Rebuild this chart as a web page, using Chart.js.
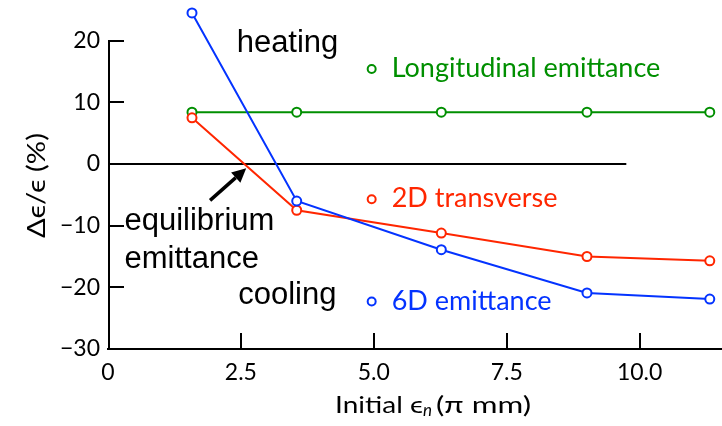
<!DOCTYPE html>
<html>
<head>
<meta charset="utf-8">
<script src="https://cdn.jsdelivr.net/npm/chart.js@4.4.1/dist/chart.umd.min.js"></script>
<style>
  html, body { margin: 0; padding: 0; background: #fff; }
</style>
</head>
<body>
<canvas id="chart" width="722" height="426"></canvas>
<script>
// initial normalised emittance (pi mm) and change in emittance (%)
const xValues = [1.58, 3.55, 6.27, 9.01, 11.32];
const longitudinal = [8.4, 8.4, 8.4, 8.4, 8.4];
const transverse2D = [7.5, -7.5, -11.2, -15.0, -15.7];
const emittance6D = [24.5, -6.0, -13.9, -20.9, -21.9];
const xTicks = [0, 2.5, 5, 7.5, 10];
const yTicks = [-30, -20, -10, 0, 10, 20];
const zeroLine = [0, 9.75];   // x range of the black reference line at 0 %

const GREEN = "#008f00", RED = "#ff2600", BLUE = "#0433ff";
const tickFont = "Lato";
const noteFont = "'Liberation Sans', Arial, sans-serif";

// text labels placed in data coordinates
const notes = [
  { text: "heating", x: 2.42, y: 18.2 },
  { text: "equilibrium", x: 0.31, y: -10.7 },
  { text: "emittance", x: 0.31, y: -16.9 },
  { text: "cooling", x: 2.45, y: -22.7 }
];
const legendItems = [
  { text: "Longitudinal emittance", color: GREEN, x: 4.96, y: 15.4 },
  { text: "2D transverse", color: RED, x: 4.96, y: -5.7 },
  { text: "6D emittance", color: BLUE, x: 4.96, y: -22.3 }
];
const arrow = { from: [1.92, -5.9], to: [2.6, -0.7] };

const pts = (ys) => xValues.map((x, i) => ({ x: x, y: ys[i] }));

const series = (label, ys, color, order) => ({
  label: label,
  data: pts(ys),
  borderColor: color,
  backgroundColor: "#fff",
  borderWidth: 2,
  pointRadius: 4.5,
  pointBorderWidth: 2,
  pointBackgroundColor: "#fff",
  pointBorderColor: color,
  clip: false,
  order: order
});

// draw text stretched to a given width
function fitText(ctx, text, x, y, width) {
  const w = ctx.measureText(text).width;
  ctx.save();
  ctx.translate(x, y);
  ctx.scale(width / w, 1);
  ctx.fillText(text, 0, 0);
  ctx.restore();
}

const decor = {
  id: "decor",
  beforeDatasetsDraw(chart) {
    const { ctx, chartArea: a, scales: { x, y } } = chart;
    const top = y.getPixelForValue(yTicks[yTicks.length - 1]);
    const bottom = y.getPixelForValue(yTicks[0]);
    ctx.save();
    ctx.strokeStyle = "#000";
    ctx.lineWidth = 2;
    ctx.beginPath();
    // y axis line, only up to the last tick
    ctx.moveTo(a.left + 1, top);
    ctx.lineTo(a.left + 1, bottom);
    // inward tick marks
    yTicks.slice(1).forEach(v => {
      const py = Math.round(y.getPixelForValue(v));
      ctx.moveTo(a.left, py);
      ctx.lineTo(a.left + 16, py);
    });
    xTicks.slice(1).forEach(v => {
      const px = Math.round(x.getPixelForValue(v));
      ctx.moveTo(px, bottom);
      ctx.lineTo(px, bottom - 16);
    });
    ctx.stroke();
    ctx.restore();
  },
  afterDraw(chart) {
    const { ctx, chartArea: a, scales: { x, y } } = chart;
    ctx.save();

    // annotations
    ctx.fillStyle = "#000";
    ctx.font = "31px " + noteFont;
    ctx.textBaseline = "alphabetic";
    ctx.textAlign = "left";
    notes.forEach(n => ctx.fillText(n.text, x.getPixelForValue(n.x), y.getPixelForValue(n.y)));

    // arrow
    const x0 = x.getPixelForValue(arrow.from[0]), y0 = y.getPixelForValue(arrow.from[1]);
    const x1 = x.getPixelForValue(arrow.to[0]), y1 = y.getPixelForValue(arrow.to[1]);
    const ang = Math.atan2(y1 - y0, x1 - x0);
    const hl = 14, hw = 7;
    const c = Math.cos(ang), s = Math.sin(ang);
    ctx.strokeStyle = "#000";
    ctx.lineWidth = 3.5;
    ctx.beginPath();
    ctx.moveTo(x0, y0);
    ctx.lineTo(x1 - hl * c, y1 - hl * s);
    ctx.stroke();
    ctx.beginPath();
    ctx.moveTo(x1, y1);
    ctx.lineTo(x1 - hl * c + hw * s, y1 - hl * s - hw * c);
    ctx.lineTo(x1 - hl * c - hw * s, y1 - hl * s + hw * c);
    ctx.closePath();
    ctx.fill();

    // legend
    ctx.font = "27px " + tickFont;
    legendItems.forEach(it => {
      const px = x.getPixelForValue(it.x), py = y.getPixelForValue(it.y);
      ctx.strokeStyle = it.color;
      ctx.lineWidth = 2;
      ctx.beginPath();
      ctx.arc(px, py, 4, 0, Math.PI * 2);
      ctx.stroke();
      ctx.fillStyle = it.color;
      ctx.fillText(it.text, px + 20, py + 8);
    });

    // x axis title: Initial ϵn (π mm)
    ctx.fillStyle = "#000";
    const ty = 413;
    let tx = 335;
    ctx.font = "24px " + tickFont;
    const t1 = "Initial \u03f5";
    fitText(ctx, t1, tx, ty, 88);
    tx += 88;
    ctx.font = "italic 17px " + tickFont;
    ctx.fillText("n", tx, ty + 3);
    tx += ctx.measureText("n").width + 4;
    ctx.font = "24px " + tickFont;
    fitText(ctx, "(\u03c0 mm)", tx, ty, 531 - tx);

    // y axis title
    ctx.save();
    ctx.translate(45, 238);
    ctx.rotate(-Math.PI / 2);
    ctx.font = "25px " + tickFont;
    fitText(ctx, "\u0394\u03f5/\u03f5 (%)", 0, 0, 105);
    ctx.restore();

    ctx.restore();
  }
};

new Chart(document.getElementById("chart"), {
  type: "line",
  data: {
    datasets: [
      series("6D emittance", emittance6D, BLUE, 0),
      series("2D transverse", transverse2D, RED, 1),
      series("Longitudinal emittance", longitudinal, GREEN, 2),
      {
        label: "zero",
        data: zeroLine.map(v => ({ x: v, y: 0 })),
        borderColor: "#000",
        borderWidth: 2,
        pointRadius: 0,
        order: 3
      }
    ]
  },
  options: {
    responsive: false,
    animation: false,
    layout: { autoPadding: false, padding: 0 },
    plugins: { legend: { display: false }, tooltip: { enabled: false } },
    scales: {
      x: {
        type: "linear",
        min: 0,
        max: 11.55,
        afterBuildTicks: s => { s.ticks = xTicks.map(v => ({ value: v })); },
        afterFit: s => { s.height = 77; s.paddingLeft = 0; s.paddingRight = 0; },
        grid: { display: false, drawTicks: false },
        border: { display: true, color: "#000", width: 2 },
        ticks: {
          color: "#000",
          font: { family: tickFont, size: 23 },
          padding: 10,
          maxRotation: 0,
          callback: v => v === 0 ? "0" : v.toFixed(1)
        }
      },
      y: {
        min: -30,
        max: 26.6,
        afterBuildTicks: s => { s.ticks = yTicks.map(v => ({ value: v })); },
        afterFit: s => { s.width = 108; s.paddingTop = 0; s.paddingBottom = 0; },
        grid: { display: false, drawTicks: false },
        border: { display: false },
        ticks: {
          color: "#000",
          font: { family: tickFont, size: 23 },
          padding: 8,
          callback: v => String(v).replace("-", "\u2212")
        }
      }
    }
  },
  plugins: [decor]
});
</script>
</body>
</html>
